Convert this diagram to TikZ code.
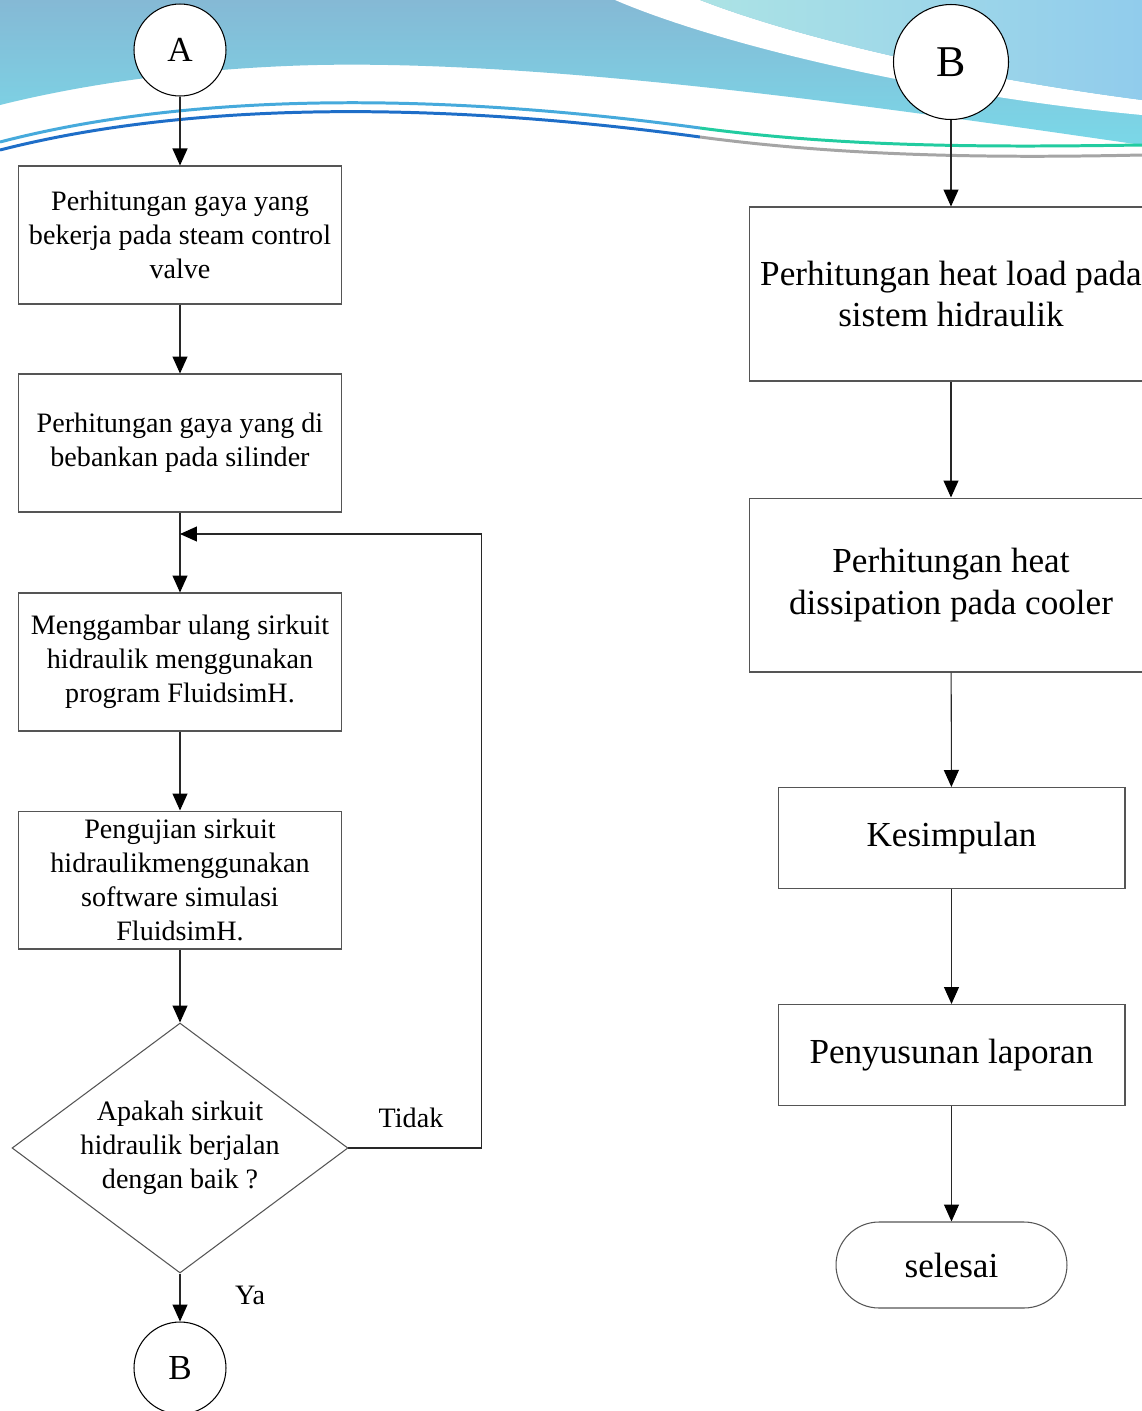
\documentclass[tikz,border=0pt]{standalone}
\usepackage{fontspec}
\setmainfont{Liberation Serif}
\usetikzlibrary{arrows.meta,shapes.geometric}
\definecolor{edgegray}{RGB}{85,85,85}
\definecolor{linegray}{RGB}{40,40,40}
\definecolor{skyblue}{RGB}{133,185,213}
\definecolor{aqua}{RGB}{122,216,232}
\definecolor{paleaqua}{RGB}{172,227,229}
\definecolor{cornerblue}{RGB}{145,204,236}
\definecolor{waveblue}{RGB}{70,170,220}
\definecolor{wavedeep}{RGB}{30,110,200}
\definecolor{wavegreen}{RGB}{34,204,160}
\definecolor{wavelight}{RGB}{100,190,228}
\definecolor{wavegray}{RGB}{165,165,165}
\tikzset{
  flownode/.style = {align=center, inner sep=1pt, text centered,
    draw=edgegray, line width=0.6pt, fill=white},
  leftbox/.style = {flownode, rectangle, minimum width=6.48cm,
    minimum height=2.76cm, font=\fontsize{16}{19.3}\selectfont},% kotak kolom kiri
  widebox/.style = {flownode, rectangle, minimum width=8.08cm,
    minimum height=3.48cm, font=\fontsize{20}{23.8}\selectfont},% kotak besar kanan
  shortbox/.style = {flownode, rectangle, minimum width=6.94cm,
    minimum height=2.02cm, font=\fontsize{20}{23.8}\selectfont},% kotak pendek kanan
  endbox/.style = {flownode, rectangle, rounded corners=0.86cm,
    minimum width=4.62cm, minimum height=1.72cm,
    font=\fontsize{20}{23.8}\selectfont},% terminator
  decbox/.style = {flownode, diamond, inner sep=0pt, shape aspect=1.344,
    minimum width=6.72cm, minimum height=5cm,
    font=\fontsize{16}{19.3}\selectfont},% keputusan
  link/.style = {circle, draw=black, fill=white, line width=0.6pt,
    inner sep=0pt, minimum size=1.84cm, font=\fontsize{20}{24}\selectfont},% penghubung
  biglink/.style = {link, minimum size=2.3cm, font=\fontsize{25}{30}\selectfont},
  tag/.style = {font=\fontsize{16}{19.3}\selectfont, inner sep=0pt}
}

\begin{document}
\begin{tikzpicture}[x=0.02cm, y=-0.02cm, ->,
  >={Triangle[length=0.34cm,width=0.3cm,fill=black,color=black]},
  line width=0.6pt, draw=linegray]
\useasboundingbox (0,0) rectangle (1142,1411);
\clip (0,0) rectangle (1142,1411);

% latar belakang
\begin{scope}[-]
\fill[white] (0,0) rectangle (1142,1411);
\shade[top color=skyblue, bottom color=aqua]
  (0,0) -- (1142,0) -- (1142,145)
  .. controls (900,110) and (560,60) .. (317,65)
  .. controls (190,68) and (80,85) .. (0,105) -- cycle;
\fill[white] (615,0) .. controls (720,45) and (930,95) .. (1142,115)
  -- (1142,100) .. controls (950,75) and (790,35) .. (700,0) -- cycle;
\shade[left color=paleaqua, right color=cornerblue]
  (700,0) .. controls (790,35) and (950,75) .. (1142,100)
  -- (1142,0) -- cycle;
\draw[waveblue, line width=1.7pt]
  (0,142) .. controls (180,95) and (420,90) .. (700,128);
\draw[wavegreen, line width=1.7pt]
  (700,128) .. controls (850,148) and (1000,147) .. (1142,145);
\draw[wavedeep, line width=1.7pt]
  (0,150) .. controls (180,104) and (420,99) .. (700,137);
\draw[wavegray, line width=1.7pt]
  (700,137) .. controls (850,157) and (1000,158) .. (1142,155);
\end{scope}

% kolom kiri
\node [link] (a) at (180,50) {A};
\node [leftbox] (gaya) at (180,235)
  {Perhitungan gaya yang\\bekerja pada steam control\\valve};
\node [leftbox] (beban) at (180,443)
  {Perhitungan gaya yang di\\bebankan pada silinder};
\node [leftbox] (gambar) at (180,662)
  {Menggambar ulang sirkuit\\hidraulik menggunakan\\program FluidsimH.};
\node [leftbox] (uji) at (180,880)
  {Pengujian sirkuit\\hidraulikmenggunakan\\software simulasi\\FluidsimH.};
\node [decbox] (cek) at (180,1148)
  {Apakah sirkuit\\hidraulik berjalan\\dengan baik ?};
\node [link] (b1) at (180,1368) {B};
\coordinate (join) at (180,534);
\node [tag] (tidak) at (411,1118) {Tidak};
\node [tag] (ya) at (250,1295) {Ya};

\draw (a) -- (gaya);
\draw (gaya) -- (beban);
\draw (beban) -- (gambar);
\draw (gambar) -- (uji);
\draw (uji) -- (cek);
\draw (cek) -- (b1);
\draw (cek.east) -- ++(133,0) |- (join);

% kolom kanan
\node [biglink] (b2) at (951,62) {B};
\node [widebox] (heat) at (951,294)
  {Perhitungan heat load pada\\sistem hidraulik};
\node [widebox] (cooler) at (951,585)
  {Perhitungan heat\\dissipation pada cooler};
\node [shortbox] (simpul) at (951.5,838) {Kesimpulan};
\node [shortbox] (lapor) at (951.5,1055) {Penyusunan laporan};
\node [endbox] (selesai) at (951.5,1265) {selesai};

\draw (b2) -- (heat);
\draw (heat) -- (cooler);
\draw (cooler) -- (simpul);
\draw (simpul) -- (lapor);
\draw (lapor) -- (selesai);
\end{tikzpicture}
\end{document}
